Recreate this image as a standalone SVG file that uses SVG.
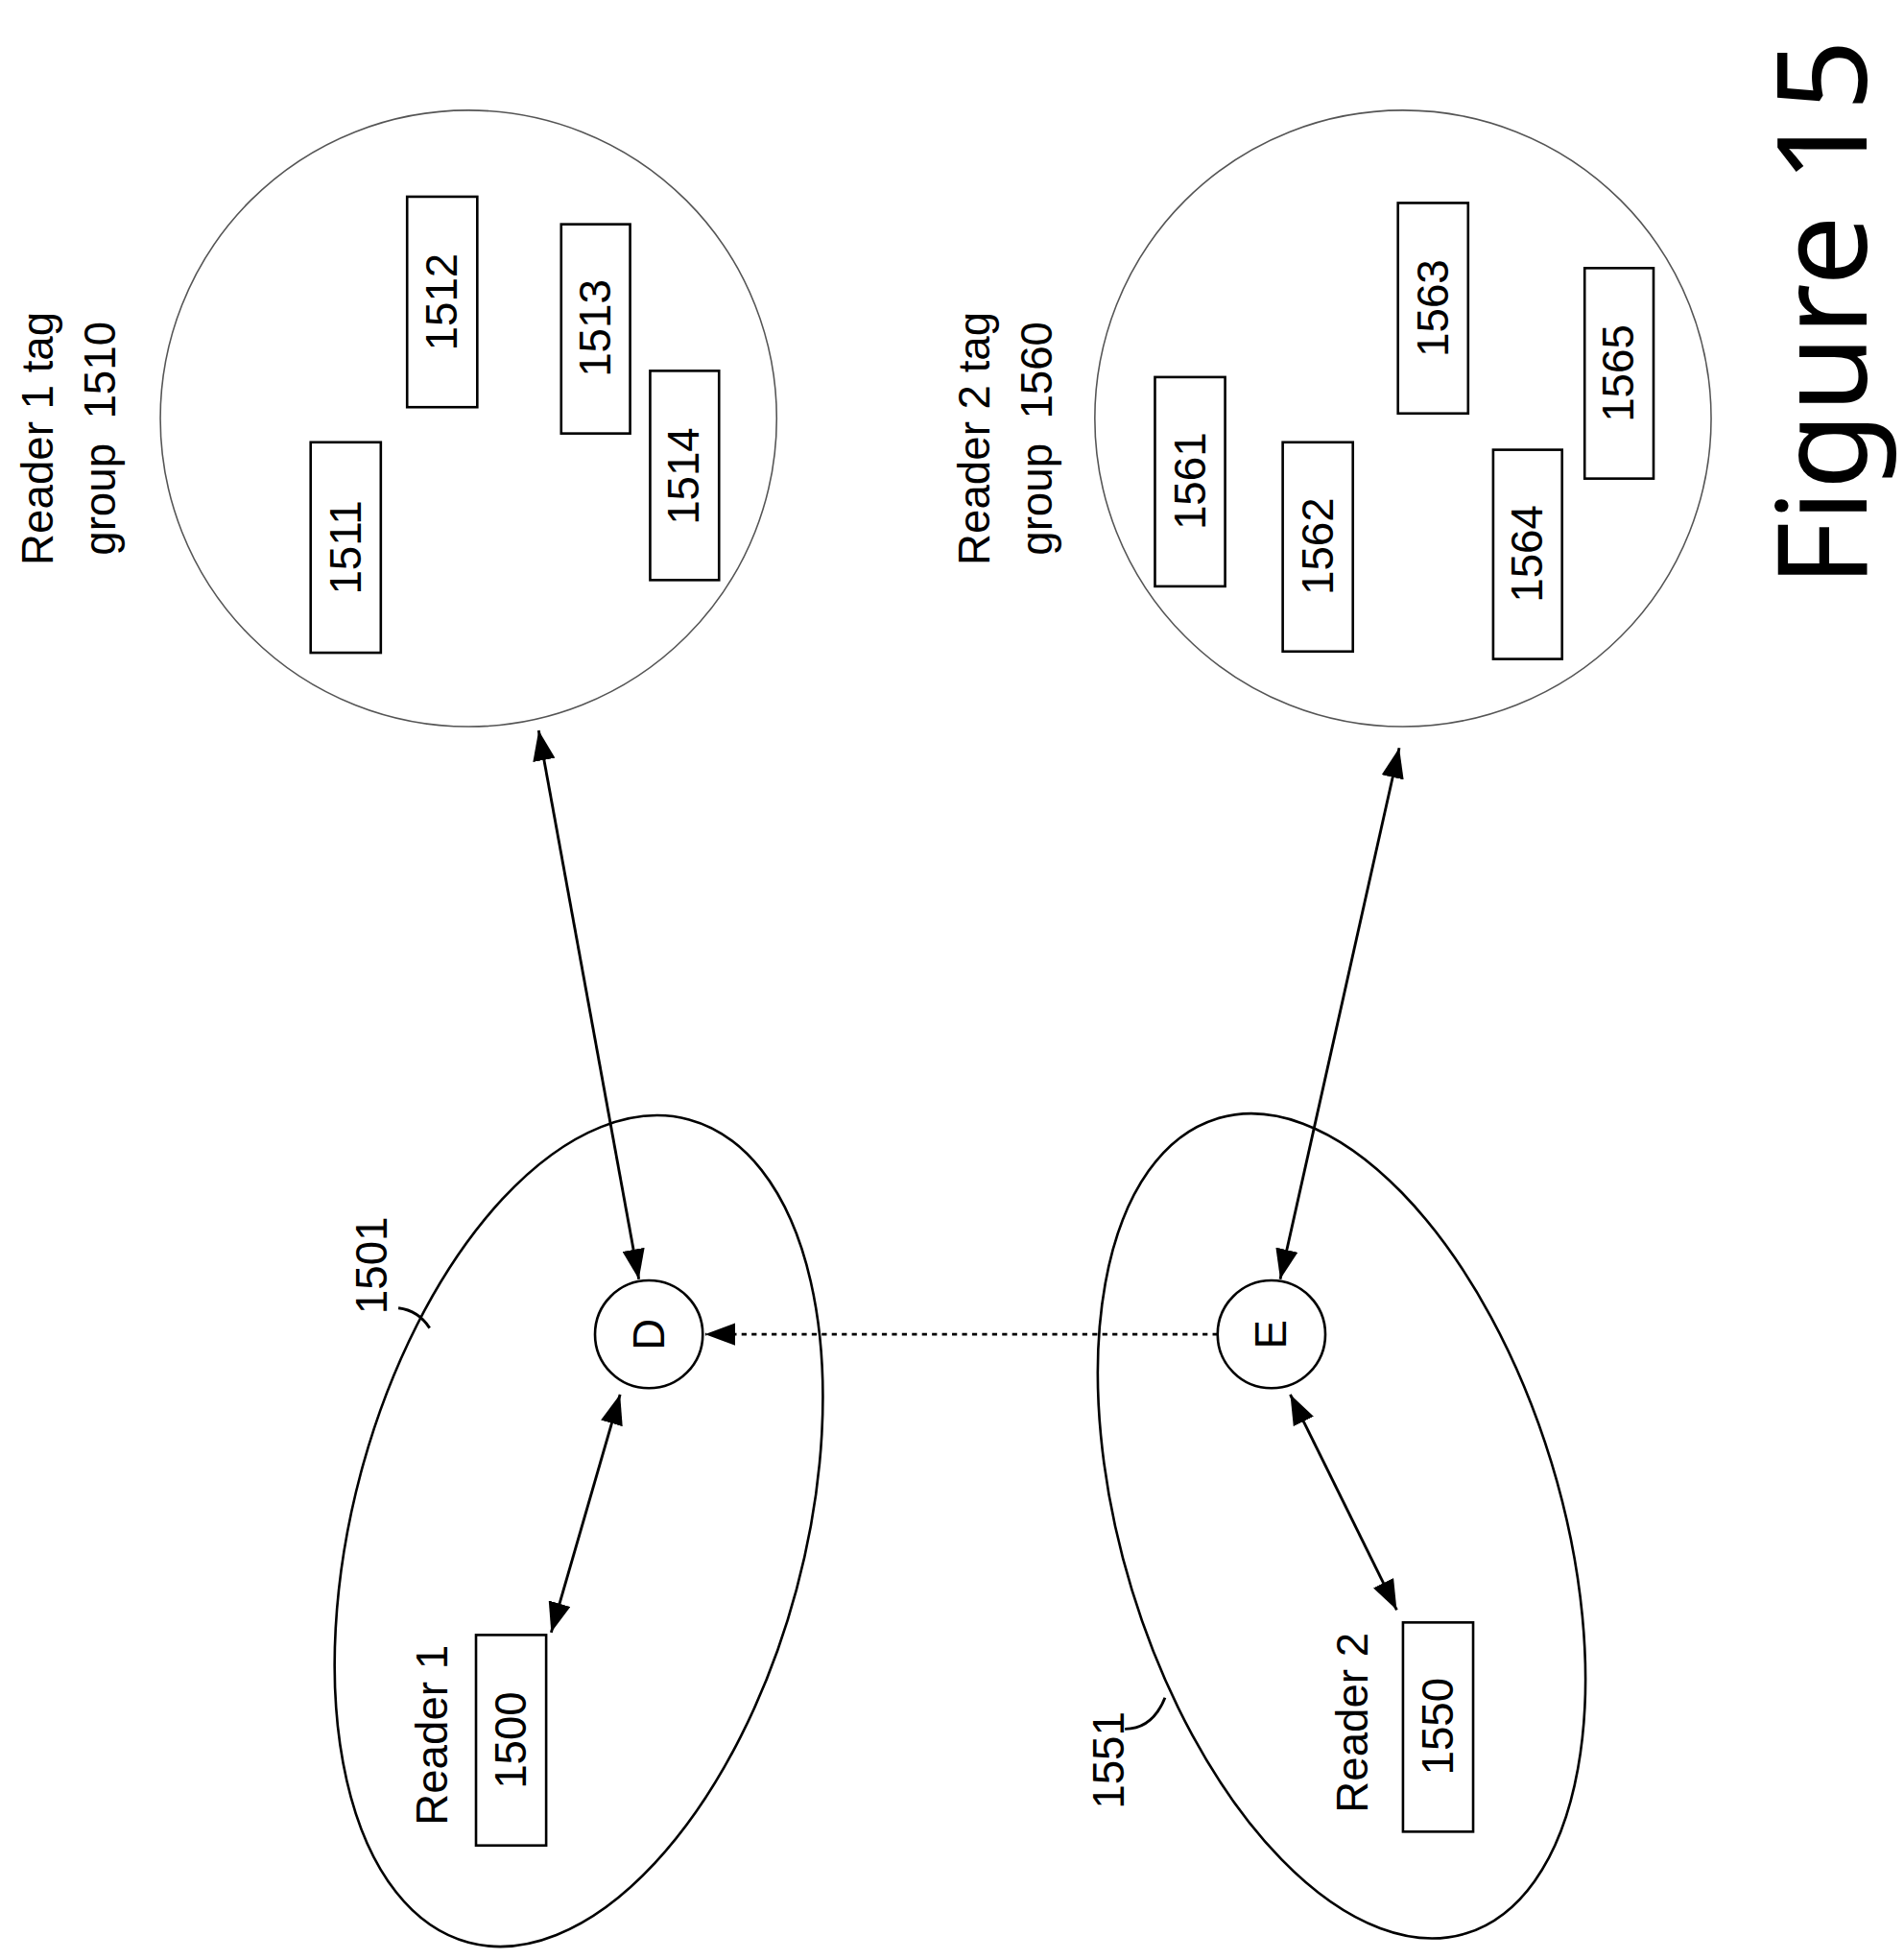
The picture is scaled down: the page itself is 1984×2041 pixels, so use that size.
<svg xmlns="http://www.w3.org/2000/svg" width="1984" height="2041" viewBox="0 0 1984 2041">
<defs>
<marker id="ah" viewBox="0 0 10 10" refX="10" refY="5" markerWidth="24" markerHeight="18" markerUnits="userSpaceOnUse" orient="auto-start-reverse" preserveAspectRatio="none"><path d="M0,0 L10,5 L0,10 z" fill="#000"/></marker>
<style>
text{font-family:"Liberation Sans",Arial,sans-serif;fill:#000}
.t{font-size:35px;text-anchor:middle;dominant-baseline:central}
.r{fill:#fff;stroke:#000;stroke-width:2}
.c{fill:none;stroke:#555;stroke-width:1.2}
.e{fill:none;stroke:#000;stroke-width:2}
.a{stroke:#000;stroke-width:2.2;fill:none}
</style>
</defs>
<rect width="1984" height="2041" fill="#fff"/>
<g transform="scale(1.3053)">
<g id="group1510">
<circle class="c" cx="374" cy="334" r="246"/>
<text class="t" x="30" y="350" transform="rotate(-90 30 350)">Reader 1 tag</text>
<text class="t" x="80" y="350" transform="rotate(-90 80 350)" xml:space="preserve">group  1510</text>
</g>
<g id="n1511"><rect class="r" x="248" y="353" width="56" height="168"/><text class="t" x="276" y="437" transform="rotate(-90 276 437)">1511</text></g>
<g id="n1512"><rect class="r" x="325" y="157" width="56" height="168"/><text class="t" x="353" y="241" transform="rotate(-90 353 241)">1512</text></g>
<g id="n1513"><rect class="r" x="448" y="179" width="55" height="167"/><text class="t" x="475" y="262" transform="rotate(-90 475 262)">1513</text></g>
<g id="n1514"><rect class="r" x="519" y="296" width="55" height="167"/><text class="t" x="546" y="380" transform="rotate(-90 546 380)">1514</text></g>
<g id="group1560">
<circle class="c" cx="1120" cy="334" r="246"/>
<text class="t" x="778" y="350" transform="rotate(-90 778 350)">Reader 2 tag</text>
<text class="t" x="828" y="350" transform="rotate(-90 828 350)" xml:space="preserve">group  1560</text>
</g>
<g id="n1561"><rect class="r" x="922" y="301" width="56" height="167"/><text class="t" x="950" y="384" transform="rotate(-90 950 384)">1561</text></g>
<g id="n1562"><rect class="r" x="1024" y="353" width="56" height="167"/><text class="t" x="1052" y="436" transform="rotate(-90 1052 436)">1562</text></g>
<g id="n1563"><rect class="r" x="1116" y="162" width="56" height="168"/><text class="t" x="1144" y="246" transform="rotate(-90 1144 246)">1563</text></g>
<g id="n1564"><rect class="r" x="1192" y="359" width="55" height="167"/><text class="t" x="1219" y="442" transform="rotate(-90 1219 442)">1564</text></g>
<g id="n1565"><rect class="r" x="1265" y="214" width="55" height="168"/><text class="t" x="1292" y="298" transform="rotate(-90 1292 298)">1565</text></g>
<g id="fig"><text x="1490" y="250" font-size="100" text-anchor="middle" style="font-family:'Noto Sans',sans-serif" transform="rotate(-90 1490 250)">Figure 15</text></g>
<g id="e1501">
<ellipse class="e" cx="462" cy="1222" rx="180" ry="340" transform="rotate(15 462 1222)"/>
<text class="t" x="297" y="1010" transform="rotate(-90 297 1010)">1501</text>
<path class="a" d="M318,1044 Q334,1046 343,1060" stroke-width="1.5"/>
</g>
<g id="e1551">
<ellipse class="e" cx="1071" cy="1218" rx="175" ry="340" transform="rotate(-17 1071 1218)"/>
<text class="t" x="885" y="1405" transform="rotate(-90 885 1405)">1551</text>
<path class="a" d="M898,1380 Q920,1380 930,1355" stroke-width="1.5"/>
</g>
<g id="nD"><circle class="r" cx="518" cy="1065" r="43"/><text class="t" x="518" y="1065" transform="rotate(-90 518 1065)">D</text></g>
<g id="nE"><circle class="r" cx="1015" cy="1065" r="43"/><text class="t" x="1015" y="1065" transform="rotate(-90 1015 1065)">E</text></g>
<g id="n1500"><rect class="r" x="380" y="1305" width="56" height="168"/><text class="t" x="408" y="1389" transform="rotate(-90 408 1389)">1500</text><text class="t" x="345" y="1385" transform="rotate(-90 345 1385)">Reader 1</text></g>
<g id="n1550"><rect class="r" x="1120" y="1295" width="56" height="167"/><text class="t" x="1148" y="1378" transform="rotate(-90 1148 1378)">1550</text><text class="t" x="1080" y="1375" transform="rotate(-90 1080 1375)">Reader 2</text></g>
<g id="connectors">
<line class="a" x1="510" y1="1021" x2="430" y2="583" marker-start="url(#ah)" marker-end="url(#ah)"/>
<line class="a" x1="1022" y1="1021" x2="1117" y2="597" marker-start="url(#ah)" marker-end="url(#ah)"/>
<line class="a" x1="495" y1="1113" x2="440" y2="1303" marker-start="url(#ah)" marker-end="url(#ah)"/>
<line class="a" x1="1030" y1="1113" x2="1115" y2="1285" marker-start="url(#ah)" marker-end="url(#ah)"/>
<line class="a" x1="972" y1="1065" x2="563" y2="1065" stroke-dasharray="4,4" marker-end="url(#ah)"/>
</g>
</g>
</svg>
